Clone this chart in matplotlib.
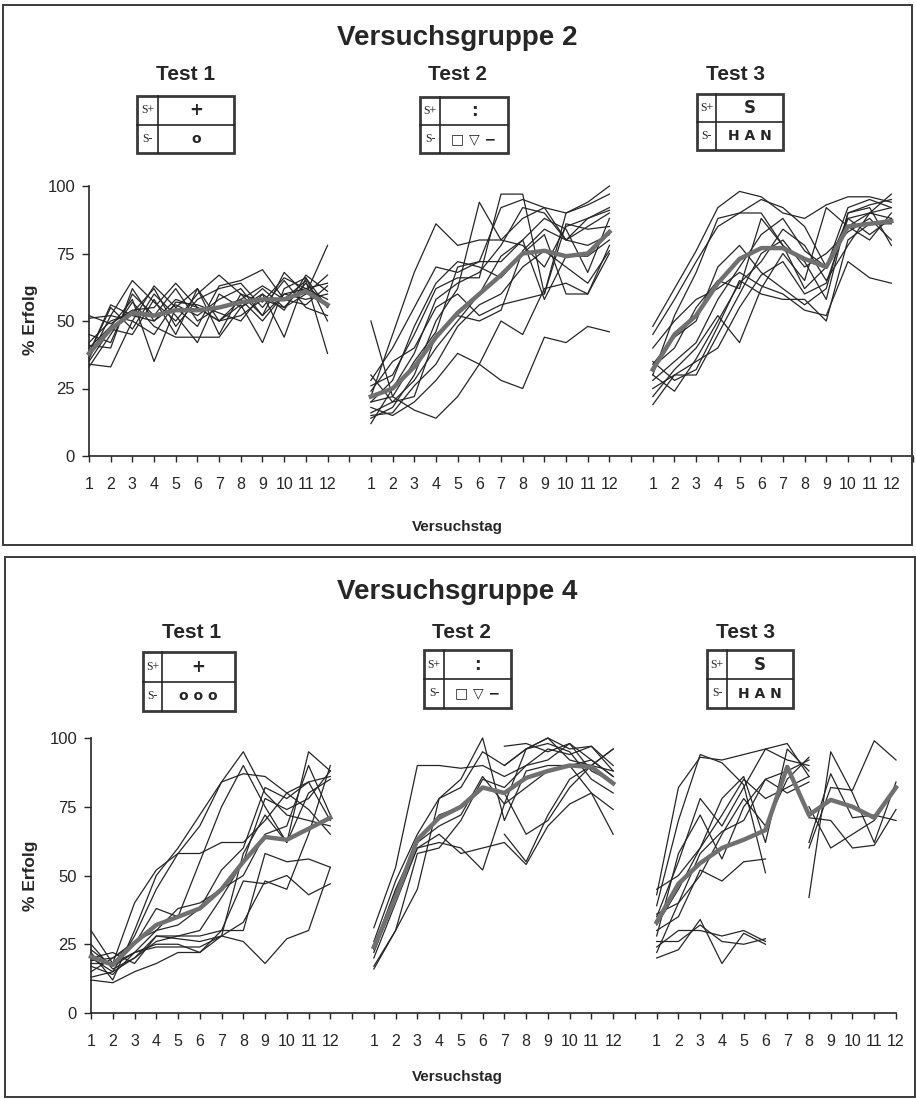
import matplotlib
matplotlib.use("Agg")
import matplotlib.pyplot as plt
import numpy as np
from matplotlib.patches import Rectangle
from matplotlib.lines import Line2D

nan = np.nan

# ---------------- data ----------------
day_labels = [str(d) for d in range(1, 13)]
yticks = [0, 25, 50, 75, 100]

# Versuchsgruppe 2
g2_t1_lines = [
    [36, 52, 65, 57, 50, 60, 67, 60, 52, 68, 60, 78],
    [34, 33, 50, 63, 55, 48, 63, 65, 69, 58, 65, 38],
    [40, 48, 58, 35, 55, 62, 45, 60, 57, 66, 62, 64],
    [52, 49, 54, 55, 64, 55, 50, 56, 42, 62, 66, 50],
    [38, 55, 47, 60, 52, 42, 60, 55, 60, 44, 66, 55],
    [33, 45, 57, 48, 44, 44, 44, 55, 62, 55, 60, 67],
    [42, 50, 53, 62, 48, 58, 62, 64, 55, 65, 55, 52],
    [45, 42, 60, 52, 62, 50, 55, 58, 50, 60, 58, 60],
    [38, 56, 52, 50, 58, 55, 50, 52, 58, 55, 64, 55],
    [35, 47, 45, 58, 45, 62, 50, 58, 63, 58, 56, 63],
    [41, 40, 62, 50, 56, 52, 58, 62, 52, 60, 62, 58],
    [51, 52, 50, 45, 57, 56, 53, 50, 60, 54, 67, 61],
]
g2_t1_mean = [38, 47, 53, 52, 54, 54, 55, 57, 58, 58, 61, 56]

g2_t2_lines = [
    [22, 45, 68, 86, 78, 80, 80, 88, 92, 90, 93, 97],
    [14, 18, 30, 50, 62, 94, 80, 78, 70, 85, 88, 92],
    [50, 22, 17, 14, 22, 34, 50, 45, 62, 64, 60, 78],
    [18, 15, 20, 28, 38, 34, 28, 25, 44, 42, 48, 46],
    [26, 30, 45, 62, 66, 66, 97, 97, 60, 90, 94, 100],
    [20, 22, 35, 46, 70, 72, 72, 80, 88, 84, 68, 88],
    [12, 25, 38, 58, 64, 68, 78, 92, 90, 80, 78, 82],
    [24, 35, 40, 55, 60, 52, 56, 58, 60, 86, 84, 85],
    [16, 20, 28, 40, 50, 60, 74, 80, 58, 74, 74, 80],
    [28, 40, 55, 70, 68, 72, 92, 95, 92, 80, 88, 91],
    [15, 16, 26, 34, 48, 56, 60, 70, 76, 70, 64, 76],
    [30, 20, 22, 45, 52, 50, 54, 76, 84, 80, 85, 90],
    [20, 28, 48, 64, 72, 70, 66, 75, 82, 60, 60, 75],
]
g2_t2_mean = [22, 25, 33, 44, 53, 60, 67, 75, 76, 74, 75, 83]

g2_t3_lines = [
    [48, 62, 76, 92, 98, 96, 90, 88, 93, 96, 96, 94],
    [45, 58, 72, 85, 90, 95, 92, 85, 70, 88, 90, 97],
    [30, 52, 68, 88, 90, 90, 78, 62, 70, 92, 95, 92],
    [33, 40, 55, 65, 62, 88, 78, 72, 58, 90, 93, 95],
    [28, 35, 42, 58, 70, 82, 88, 76, 70, 85, 80, 90],
    [25, 30, 30, 45, 60, 75, 80, 70, 75, 83, 88, 80],
    [19, 30, 35, 40, 55, 67, 72, 60, 64, 88, 82, 88],
    [35, 28, 32, 48, 65, 60, 58, 58, 50, 80, 86, 86],
    [22, 32, 40, 52, 42, 62, 75, 65, 92, 85, 90, 92],
    [40, 50, 58, 62, 68, 63, 60, 54, 52, 72, 66, 64],
    [30, 24, 36, 50, 64, 72, 84, 78, 65, 78, 90, 88],
    [34, 44, 50, 70, 78, 68, 62, 56, 62, 90, 92, 78],
]
g2_t3_mean = [32, 45, 52, 64, 73, 77, 77, 73, 70, 85, 86, 87]

# Versuchsgruppe 4
g4_t1_lines = [
    [20, 15, 28, 45, 58, 68, 84, 95, 80, 72, 70, 68],
    [22, 12, 30, 50, 60, 72, 84, 87, 86, 80, 74, 65],
    [18, 18, 40, 52, 58, 58, 62, 62, 70, 80, 84, 86],
    [15, 20, 25, 38, 35, 55, 75, 90, 75, 62, 95, 88],
    [30, 18, 22, 30, 32, 38, 52, 60, 82, 78, 84, 70],
    [13, 15, 20, 28, 28, 28, 30, 30, 58, 55, 56, 53],
    [20, 22, 18, 28, 27, 26, 28, 26, 18, 27, 30, 53],
    [17, 14, 22, 25, 25, 22, 28, 33, 48, 45, 65, 90],
    [12, 11, 15, 18, 22, 22, 30, 48, 47, 50, 43, 47],
    [23, 17, 22, 24, 24, 24, 28, 58, 72, 62, 80, 85],
    [19, 20, 26, 30, 38, 40, 45, 50, 65, 68, 90, 72],
    [25, 16, 20, 26, 28, 30, 42, 55, 78, 74, 78, 88],
]
g4_t1_mean = [20.5, 17.5, 25.5, 32, 35, 38, 45, 55, 64, 63, 67, 71]

g4_t2_lines = [
    [31, 53, 90, 90, 89, 90, 86, 90, 96, 94, 97, 90],
    [17, 30, 45, 78, 85, 100, 70, 88, 90, 90, 92, 86],
    [24, 45, 62, 68, 72, 86, 76, 96, 98, 95, 85, 80],
    [20, 40, 60, 62, 60, 52, 76, 82, 88, 90, 80, 65],
    [22, 42, 60, 65, 58, 60, 62, 54, 68, 76, 80, 74],
    [16, 30, 58, 60, 70, 85, 82, 90, 92, 98, 88, 84],
    [26, 48, 65, 78, 82, 95, 90, 96, 100, 92, 90, 96],
    [23, 44, 62, 72, 75, 82, 80, 65, 70, 82, 90, 88],
    [nan, nan, nan, nan, nan, nan, 97, 98, 95, 98, 92, 86],
    [nan, nan, nan, nan, nan, nan, 90, 96, 100, 96, 97, 88],
    [nan, nan, nan, nan, nan, nan, 65, 55, 72, 85, 90, 96],
]
g4_t2_mean = [24, 42, 63, 71, 75, 82, 80, 85.5, 88, 90, 89.5, 83.5]

g4_t3_lines = [
    [43, 82, 93, 92, 94, 96, 98, 86, nan, nan, nan, nan],
    [39, 70, 94, 91, 83, 51, nan, nan, nan, nan, nan, nan],
    [35, 55, 78, 68, 82, 96, 92, 90, nan, nan, nan, nan],
    [28, 58, 72, 56, 75, 85, 88, 92, nan, nan, nan, nan],
    [32, 45, 60, 78, 86, 62, 96, 88, nan, nan, nan, nan],
    [22, 40, 50, 65, 78, 68, 85, 93, nan, nan, nan, nan],
    [30, 35, 52, 48, 55, 56, nan, nan, nan, nan, nan, nan],
    [20, 23, 34, 18, 29, 25, nan, nan, nan, nan, nan, nan],
    [26, 26, 32, 26, 25, 27, nan, nan, nan, nan, nan, nan],
    [24, 30, 30, 28, 30, 26, nan, nan, nan, nan, nan, nan],
    [45, 50, 60, 72, 85, 78, 82, 86, nan, nan, nan, nan],
    [36, 40, 58, 66, 70, 85, 80, 84, nan, nan, nan, nan],
    [nan, nan, nan, nan, nan, nan, nan, 42, 95, 80, 62, 84],
    [nan, nan, nan, nan, nan, nan, nan, 60, 82, 81, 99, 92],
    [nan, nan, nan, nan, nan, nan, nan, 71, 70, 60, 61, 74],
    [nan, nan, nan, nan, nan, nan, nan, 62, 87, 71, 72, 70],
    [nan, nan, nan, nan, nan, nan, nan, 75, 60, 65, 70, 82],
]
g4_t3_mean = [33, 47, 54.5, 60, 63, 66.5, 89.5, 72, 77.5, 75, 71, 82]

test_titles = ["Test 1", "Test 2", "Test 3"]
g2_tables = [("+", "o"), (":", "\u25a1 \u25bd \u2212"), ("S", "H A N")]
g4_tables = [("+", "o o o"), (":", "\u25a1 \u25bd \u2212"), ("S", "H A N")]

# ---------------- drawing ----------------
W, H = 916, 1099
plt.rcParams["font.family"] = ["Liberation Sans", "DejaVu Sans"]
fig = plt.figure(figsize=(W / 100, H / 100), dpi=100)
fig.patch.set_facecolor("white")
INK = "#262626"


def fx(p):
    return p / W


def fy(p):
    return 1 - p / H


def frame(x0, y0, x1, y1, lw=1.4):
    fig.patches.append(Rectangle((fx(x0), fy(y1)), fx(x1) - fx(x0), fy(y0) - fy(y1),
                                 transform=fig.transFigure, fill=False, lw=lw, ec="#3a3a3a"))


def fline(xs, ys, lw=1.0):
    fig.lines.append(Line2D([fx(x) for x in xs], [fy(y) for y in ys],
                            transform=fig.transFigure, lw=lw, color=INK))


def table(x0, y0, x1, y1, xs, txt):
    frame(x0, y0, x1, y1, lw=2.0)
    ym = (y0 + y1) / 2
    fline([xs, xs], [y0, y1], lw=1.2)
    fline([x0, x1], [ym, ym], lw=1.2)
    fig.text(fx((x0 + xs) / 2), fy((y0 + ym) / 2), "S+", ha="center", va="center",
             fontsize=8.5, family="Liberation Serif", color=INK)
    fig.text(fx((x0 + xs) / 2), fy((ym + y1) / 2), "S-", ha="center", va="center",
             fontsize=8.5, family="Liberation Serif", color=INK)
    fig.text(fx((xs + x1) / 2), fy((y0 + ym) / 2), txt[0], ha="center", va="center",
             fontsize=12, fontweight="bold", family=["DejaVu Sans"], color=INK)
    fig.text(fx((xs + x1) / 2), fy((ym + y1) / 2), txt[1], ha="center", va="center",
             fontsize=10, fontweight="bold", family=["DejaVu Sans"], color=INK)


def panel(box, title_y, title, test_xs, test_y, tables, tabspec, axbox, xmax,
          tests, ylab_y, xlab_y):
    frame(*box)
    fig.text(fx(457), fy(title_y), title, ha="center", va="center",
             fontsize=20, fontweight="bold", color=INK)
    for tx, tt in zip(test_xs, test_titles):
        fig.text(fx(tx), fy(test_y), tt, ha="center", va="center",
                 fontsize=15, fontweight="bold", color=INK)
    for spec, txt in zip(tabspec, tables):
        table(*spec, txt)
    l, r, t, b = axbox
    ax = fig.add_axes([fx(l), fy(b), fx(r) - fx(l), fy(t) - fy(b)])
    ax.set_xlim(0, xmax)
    ax.set_ylim(0, 100)
    for spn in ["top", "right"]:
        ax.spines[spn].set_visible(False)
    for spn in ["left", "bottom"]:
        ax.spines[spn].set_color(INK)
        ax.spines[spn].set_linewidth(1.2)
    pos = list(range(0, xmax + 1))
    ax.set_xticks(pos)
    ax.set_xticklabels([day_labels[p % 13] if p % 13 < 12 else "" for p in pos])
    ax.set_yticks(yticks)
    ax.set_yticklabels([str(v) for v in yticks])
    ax.tick_params(axis="x", direction="out", length=4, width=1, pad=11,
                   labelsize=11.5, colors=INK)
    ax.tick_params(axis="y", direction="out", length=5, width=1, pad=5,
                   labelsize=12, colors=INK)
    for k, (lines, mean) in enumerate(tests):
        xs = np.arange(12) + 13 * k
        for ln in lines:
            ax.plot(xs, ln, color=INK, lw=0.9, clip_on=False, zorder=2)
        ax.plot(xs, mean, color="#707070", lw=3.2, clip_on=False, zorder=3,
                solid_joinstyle="round")
    fig.text(fx(30), fy(ylab_y), "% Erfolg", rotation=90, ha="center", va="center",
             fontsize=12.5, fontweight="bold", color=INK)
    fig.text(fx(457), fy(xlab_y), "Versuchstag", ha="center", va="center",
             fontsize=11, fontweight="bold", color=INK)
    return ax


panel((3, 5, 912, 545), 38, "Versuchsgruppe 2", [186, 458, 736], 75, g2_tables,
      [(137, 96, 234, 153, 158), (420, 97, 508, 153, 440), (697, 94, 783, 150, 716)],
      (89, 913, 186, 456), 38,
      [(g2_t1_lines, g2_t1_mean), (g2_t2_lines, g2_t2_mean), (g2_t3_lines, g2_t3_mean)],
      320, 527)

panel((5, 557, 915, 1097), 592, "Versuchsgruppe 4", [192, 462, 745], 632, g4_tables,
      [(143, 652, 235, 711, 162), (424, 650, 511, 708, 444), (707, 650, 793, 708, 727)],
      (91, 896, 738, 1013), 37,
      [(g4_t1_lines, g4_t1_mean), (g4_t2_lines, g4_t2_mean), (g4_t3_lines, g4_t3_mean)],
      876, 1077)

fig.savefig("out.png", dpi=100, facecolor="white")
